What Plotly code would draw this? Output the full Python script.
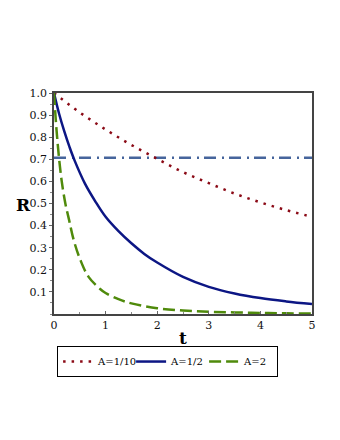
import plotly.graph_objects as go

# data
t_a10 = [0, 0.5, 1.0, 1.5, 2.0, 2.5, 3.0, 3.5, 4.0, 4.5, 5.0]
r_a10 = [1.0, 0.912, 0.835, 0.765, 0.702, 0.642, 0.592, 0.545, 0.505, 0.47, 0.44]

t_a05 = [0, 0.1, 0.2, 0.3, 0.4, 0.6, 0.8, 1.0, 1.25, 1.5, 1.75, 2.0, 2.5, 3.0, 3.5, 4.0, 4.5, 5.0]
r_a05 = [1.0, 0.905, 0.826, 0.756, 0.694, 0.59, 0.51, 0.44, 0.375, 0.32, 0.272, 0.233, 0.168, 0.123, 0.093, 0.072, 0.057, 0.045]

t_a2 = [0, 0.05, 0.1, 0.15, 0.22, 0.29, 0.38, 0.51, 0.67, 0.9, 1.0, 1.25, 1.5, 2.0, 2.5, 3.0, 3.5, 4.0, 4.5, 5.0]
r_a2 = [1.0, 0.83, 0.7, 0.6, 0.5, 0.428, 0.336, 0.245, 0.168, 0.112, 0.095, 0.067, 0.048, 0.026, 0.016, 0.01, 0.007, 0.005, 0.003, 0.002]

t_ref = [0, 5]
r_ref = [0.707, 0.707]

x_ticks = [0, 1, 2, 3, 4, 5]
y_ticks = [0.1, 0.2, 0.3, 0.4, 0.5, 0.6, 0.7, 0.8, 0.9, 1.0]

FONT = "DejaVu Serif"

fig = go.Figure()
fig.add_trace(go.Scatter(x=t_ref, y=r_ref, mode="lines", showlegend=False,
                         line=dict(color="#46659c", width=2.5, dash="12px,6px,2px,5px")))
fig.add_trace(go.Scatter(x=t_a10, y=r_a10, mode="lines", name="A=1/10", line_shape="spline",
                         line=dict(color="#8b0a16", width=2.5, dash="2.5px,6px")))
fig.add_trace(go.Scatter(x=t_a05, y=r_a05, mode="lines", name="A=1/2", line_shape="spline",
                         line=dict(color="#0c1684", width=2.5)))
fig.add_trace(go.Scatter(x=t_a2, y=r_a2, mode="lines", name="A=2", line_shape="spline",
                         line=dict(color="#4f8a0b", width=2.5, dash="12px,5px")))

fig.update_layout(
    width=340, height=440,
    margin=dict(l=46, r=36, t=85, b=134),
    plot_bgcolor="white", paper_bgcolor="white",
    font=dict(family=FONT, size=11, color="#111"),
    legend=dict(orientation="h", x=0.012, y=-0.145, xanchor="left", yanchor="top",
                bordercolor="black", borderwidth=1, font=dict(size=10, family=FONT, color="black"),
                itemwidth=30, tracegroupgap=0, entrywidth=28),
    annotations=[
        dict(text="<b>t</b>", x=0.5, y=-0.107, xref="paper", yref="paper", showarrow=False,
             xanchor="center", yanchor="middle", font=dict(size=17, family=FONT, color="black")),
        dict(text="<b>R</b>", x=-0.12, y=0.493, xref="paper", yref="paper", showarrow=False,
             xanchor="center", yanchor="middle", font=dict(size=17, family=FONT, color="black")),
    ],
)
fig.update_xaxes(range=[0, 5], tickvals=x_ticks, ticks="inside", ticklen=3, tickcolor="#666",
                 showgrid=False, zeroline=False, showline=True, linecolor="#444", linewidth=1.5, mirror=True,
                 minor=dict(dtick=0.5, ticks="inside", ticklen=2, tickcolor="#888"))
fig.update_yaxes(range=[0, 1], tickvals=y_ticks, tickformat=".1f", ticks="outside", ticklen=3, tickcolor="#666",
                 showgrid=False, zeroline=False, showline=True, linecolor="#444", linewidth=1.5, mirror=True,
                 minor=dict(dtick=0.05, ticks="outside", ticklen=2, tickcolor="#888"))

fig.write_html("out.html")
